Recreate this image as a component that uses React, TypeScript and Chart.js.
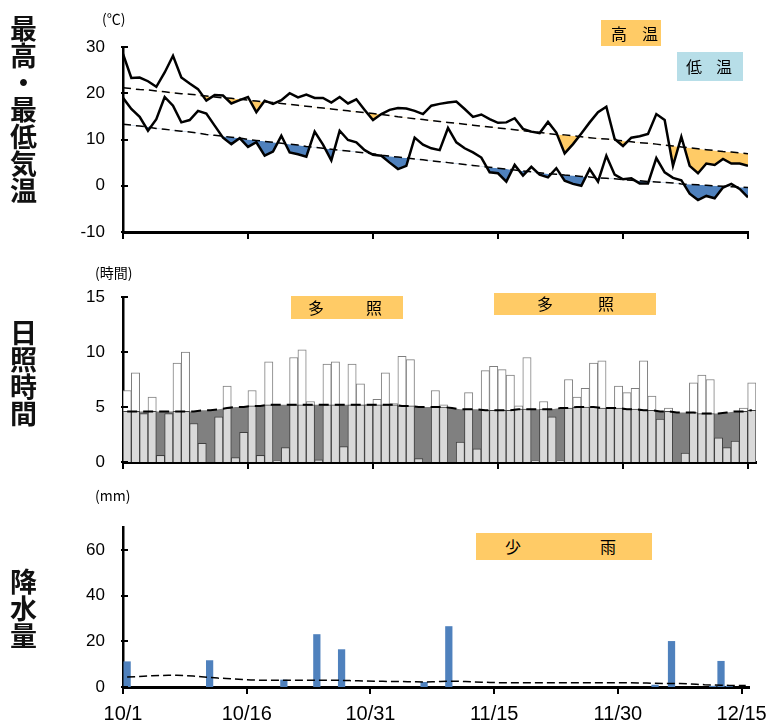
import React, { useEffect, useRef } from "react";
import { Chart, registerables } from "chart.js";
Chart.register(...registerables);

// ---------- data ----------
const dateLabels = ["10/1", "10/16", "10/31", "11/15", "11/30", "12/15"];
const dateTickPos = [0, 15, 30, 45, 60, 75];

const tempMax = [
  28.5, 23.3, 23.4, 22.6, 21.4, 24.5, 28.1, 23.4, 22.1, 20.9,
  18.4, 19.6, 19.5, 17.8, 18.5, 19.2, 15.9, 18.4, 17.7, 18.5,
  20.0, 19.1, 19.7, 19.0, 19.0, 18.0, 19.2, 17.8, 18.7, 16.4,
  14.2, 15.5, 16.4, 16.8, 16.7, 16.2, 15.5, 17.3, 17.7, 18.0,
  18.2, 16.6, 14.9, 15.4, 14.4, 13.6, 13.7, 14.6, 12.3, 11.7,
  11.4, 13.8, 11.5, 7.0, 9.0, 11.3, 13.7, 15.9, 17.1, 10.1,
  8.6, 10.4, 10.7, 11.2, 15.5, 14.2, 4.3, 10.6, 4.3, 2.7,
  4.8, 4.5, 5.8, 4.8, 4.8, 4.3,
];
const tempMaxNormal = [
  21.2, 21.0, 20.8, 20.7, 20.5, 20.3, 20.1, 19.9, 19.8, 19.6,
  19.4, 19.2, 19.0, 18.9, 18.7, 18.5, 18.3, 18.1, 18.0, 17.8,
  17.6, 17.4, 17.2, 17.0, 16.8, 16.6, 16.4, 16.2, 16.0, 15.8,
  15.6, 15.4, 15.2, 14.9, 14.7, 14.5, 14.3, 14.1, 13.9, 13.7,
  13.5, 13.3, 13.1, 12.9, 12.7, 12.5, 12.3, 12.1, 11.9, 11.7,
  11.5, 11.3, 11.1, 11.0, 10.8, 10.6, 10.4, 10.2, 10.1, 9.9,
  9.7, 9.5, 9.3, 9.2, 9.0, 8.8, 8.6, 8.4, 8.2, 8.0,
  7.8, 7.6, 7.4, 7.3, 7.1, 6.9,
];
const tempMin = [
  19.0, 16.6, 14.9, 11.9, 14.4, 19.2, 17.3, 13.7, 14.2, 16.2,
  15.6, 13.0, 10.4, 9.0, 10.3, 8.4, 9.4, 6.5, 7.4, 10.8,
  7.2, 6.8, 6.3, 11.7, 8.9, 5.5, 11.9, 9.9, 9.4, 7.7,
  6.7, 6.5, 5.0, 3.6, 4.3, 10.4, 8.9, 8.1, 7.7, 12.5,
  9.4, 8.1, 7.2, 6.1, 2.9, 2.7, 0.9, 4.5, 2.2, 4.1,
  2.4, 1.8, 3.8, 1.1, 0.4, 0.0, 3.6, 0.9, 6.5, 2.4,
  1.4, 1.6, 0.5, 0.5, 6.0, 2.9, 1.7, 1.2, -1.7, -3.1,
  -2.2, -2.7, -0.4, 0.4, -0.7, -2.5,
];
const tempMinNormal = [
  13.3, 13.1, 12.9, 12.7, 12.4, 12.2, 12.0, 11.8, 11.6, 11.4,
  11.1, 10.9, 10.7, 10.5, 10.3, 10.0, 9.8, 9.6, 9.4, 9.2,
  9.0, 8.8, 8.5, 8.3, 8.1, 7.9, 7.7, 7.5, 7.3, 7.1,
  6.9, 6.6, 6.4, 6.2, 6.0, 5.8, 5.6, 5.4, 5.2, 5.0,
  4.8, 4.6, 4.4, 4.2, 4.0, 3.8, 3.6, 3.4, 3.2, 3.0,
  2.8, 2.6, 2.5, 2.3, 2.2, 2.0, 1.9, 1.7, 1.6, 1.5,
  1.3, 1.2, 1.1, 0.9, 0.8, 0.7, 0.6, 0.4, 0.3, 0.2,
  0.1, 0.0, -0.1, -0.2, -0.3, -0.4,
];
const sunshine = [
  6.5, 8.1, 4.4, 5.9, 0.6, 4.4, 9.0, 10.0, 3.5, 1.7,
  0.0, 4.1, 6.9, 0.4, 2.7, 6.5, 0.6, 9.1, 0.1, 1.3,
  9.5, 10.2, 5.5, 0.2, 8.9, 9.1, 1.4, 8.9, 7.1, 5.2,
  5.7, 8.1, 5.3, 9.6, 9.3, 0.3, 0.0, 6.5, 5.2, 0.0,
  1.8, 6.3, 1.2, 8.3, 8.7, 8.4, 7.9, 5.1, 9.5, 0.1,
  5.5, 4.1, 0.1, 7.5, 5.9, 6.7, 9.0, 9.2, 4.9, 6.9,
  6.3, 6.7, 9.2, 6.0, 3.9, 4.9, 0.0, 0.8, 7.2, 7.9,
  7.5, 2.2, 1.3, 1.9, 4.9, 7.2,
];
const sunshineNormal = [
  4.6, 4.6, 4.6, 4.6, 4.6, 4.6, 4.6, 4.6, 4.6, 4.7,
  4.7, 4.8, 4.9, 5.0, 5.0, 5.1, 5.1, 5.2, 5.2, 5.2,
  5.2, 5.2, 5.2, 5.2, 5.2, 5.2, 5.2, 5.2, 5.2, 5.2,
  5.2, 5.2, 5.2, 5.1, 5.1, 5.0, 5.0, 5.0, 5.0, 4.9,
  4.8, 4.8, 4.8, 4.7, 4.7, 4.7, 4.7, 4.8, 4.8, 4.8,
  4.8, 4.8, 4.9, 4.9, 5.0, 5.0, 5.0, 4.9, 4.9, 4.9,
  4.8, 4.8, 4.7, 4.7, 4.6, 4.6, 4.5, 4.5, 4.5, 4.4,
  4.4, 4.4, 4.5, 4.6, 4.6, 4.7,
];
const rain = [
  11.2, 0, 0, 0, 0, 0, 0, 0, 0, 0,
  11.7, 0, 0, 0, 0, 0, 0, 0, 0, 3.2,
  0, 0, 0, 23.1, 0, 0, 16.5, 0, 0, 0,
  0, 0, 0, 0, 0, 0, 2.2, 0, 0, 26.6,
  0, 0, 0, 0, 0, 0, 0, 0, 0, 0,
  0, 0, 0, 0, 0, 0, 0, 0, 0, 0,
  0, 0, 0, 0, 1.0, 0, 20.1, 0, 0, 0,
  0, 0.5, 11.4, 0.5, 0, 0,
];
const rainNormal = [
  4.4, 4.5, 4.7, 4.9, 5.0, 5.1, 5.1, 5.0, 4.8, 4.5,
  4.2, 3.9, 3.7, 3.5, 3.3, 3.1, 3.0, 2.9, 2.9, 2.9,
  2.9, 2.9, 2.9, 2.9, 2.9, 2.9, 2.9, 2.8, 2.7, 2.6,
  2.5, 2.5, 2.4, 2.4, 2.3, 2.3, 2.2, 2.3, 2.4, 2.5,
  2.5, 2.4, 2.2, 2.1, 2.0, 1.9, 1.9, 1.9, 1.9, 1.9,
  1.9, 1.9, 1.9, 1.9, 1.9, 1.9, 1.9, 1.9, 1.9, 1.9,
  1.9, 1.9, 1.8, 1.7, 1.6, 1.5, 1.5, 1.5, 1.4, 1.2,
  1.0, 0.9, 0.8, 0.7, 0.7, 0.7,
];
const tempTicks = [-10, 0, 10, 20, 30];
const sunTicks = [0, 5, 10, 15];
const rainTicks = [0, 20, 40, 60];

// ---------- styles ----------
const ORANGE = "#FFCB66";
const BLUE = "#4F81BD";
const LIGHTBLUE = "#B7DEE8";
const NUMFONT = "'Liberation Sans', Arial, sans-serif";
const JPFONT = "'Noto Sans CJK JP', 'Noto Sans', sans-serif";
const W = 782;

const tickPlugin = {
  id: "innerTicks",
  afterDraw(chart: any) {
    const ctx = chart.ctx;
    const a = chart.chartArea;
    const xs = chart.scales.x;
    const ys = chart.scales.y;
    ctx.save();
    ctx.strokeStyle = "#000";
    ctx.lineWidth = 2;
    ctx.beginPath();
    ys.ticks.forEach((t: any) => {
      const y = Math.round(ys.getPixelForValue(t.value));
      ctx.moveTo(a.left - 2, y);
      ctx.lineTo(a.left + 5, y);
    });
    xs.ticks.forEach((t: any) => {
      const x = Math.round(xs.getPixelForValue(t.value));
      ctx.moveTo(x, a.bottom);
      ctx.lineTo(x, a.bottom + 7);
    });
    ctx.stroke();
    ctx.restore();
  },
};

function xAxis(max: number, showLabels: boolean, height: number) {
  return {
    type: "linear",
    min: 0,
    max,
    offset: false,
    afterBuildTicks: (s: any) => {
      s.ticks = dateTickPos.map((v) => ({ value: v }));
    },
    afterFit: (s: any) => {
      s.height = height;
    },
    ticks: {
      display: showLabels,
      autoSkip: false,
      maxRotation: 0,
      padding: 15,
      color: "#000",
      font: { family: NUMFONT, size: 20 },
      callback: (v: any) => {
        const k = dateTickPos.indexOf(Number(v));
        return k >= 0 ? dateLabels[k] : "";
      },
    },
    grid: { display: false, drawTicks: false, offset: false },
    border: { display: true, color: "#000", width: 3 },
  };
}

function yAxis(min: number, max: number, ticks: number[]) {
  return {
    type: "linear",
    min,
    max,
    afterBuildTicks: (s: any) => {
      s.ticks = ticks.map((v) => ({ value: v }));
    },
    afterFit: (s: any) => {
      s.width = 123;
    },
    ticks: {
      padding: 18,
      color: "#000",
      font: { family: NUMFONT, size: 17 },
    },
    grid: { display: false, drawTicks: false },
    border: { display: true, color: "#000", width: 2.5 },
  };
}

const baseOpts = {
  responsive: false,
  animation: false,
  devicePixelRatio: 1,
  plugins: { legend: { display: false }, tooltip: { enabled: false } },
};

function useChart(ref: React.RefObject<HTMLCanvasElement>, make: () => any) {
  useEffect(() => {
    if (!ref.current) return;
    const c = new Chart(ref.current, make());
    return () => c.destroy();
  }, []);
}

export default function App() {
  const r1 = useRef<HTMLCanvasElement>(null);
  const r2 = useRef<HTMLCanvasElement>(null);
  const r3 = useRef<HTMLCanvasElement>(null);

  useChart(r1, () => ({
    type: "line",
    data: {
      datasets: [
        {
          data: tempMax.map((v, i) => ({ x: i, y: v })),
          borderColor: "#000",
          borderWidth: 2.5,
          pointRadius: 0,
          tension: 0,
          fill: { target: 1, above: "rgba(0,0,0,0)", below: ORANGE },
          order: 2,
        },
        {
          data: tempMaxNormal.map((v, i) => ({ x: i, y: v })),
          borderColor: "#000",
          borderWidth: 1.5,
          borderDash: [8, 5],
          pointRadius: 0,
          fill: false,
          order: 1,
        },
        {
          data: tempMin.map((v, i) => ({ x: i, y: v })),
          borderColor: "#000",
          borderWidth: 2.5,
          pointRadius: 0,
          tension: 0,
          fill: { target: 3, above: "rgba(0,0,0,0)", below: BLUE },
          order: 2,
        },
        {
          data: tempMinNormal.map((v, i) => ({ x: i, y: v })),
          borderColor: "#000",
          borderWidth: 1.5,
          borderDash: [8, 5],
          pointRadius: 0,
          fill: false,
          order: 1,
        },
      ],
    },
    options: {
      ...baseOpts,
      layout: { padding: { left: 0, right: W - 748, top: 47, bottom: 0 } },
      scales: { x: xAxis(75, false, 30), y: yAxis(-10, 30, tempTicks) },
    },
    plugins: [tickPlugin],
  }));

  useChart(r2, () => ({
    type: "bar",
    data: {
      datasets: [
        {
          type: "line",
          data: sunshineNormal.map((v, i) => ({ x: i + 0.5, y: v })),
          borderColor: "#000",
          borderWidth: 2,
          borderDash: [10, 6],
          pointRadius: 0,
          fill: false,
          order: 0,
        },
        {
          type: "bar",
          data: sunshine.map((v, i) => ({ x: i + 0.5, y: Math.min(v, sunshineNormal[i]) })),
          backgroundColor: "#D9D9D9",
          borderColor: "#404040",
          borderWidth: 1,
          grouped: false,
          barPercentage: 1,
          categoryPercentage: 1,
          order: 1,
        },
        {
          type: "bar",
          data: sunshine.map((v, i) => ({ x: i + 0.5, y: v })),
          backgroundColor: "#FFFFFF",
          borderColor: "#7F7F7F",
          borderWidth: 1,
          grouped: false,
          barPercentage: 1,
          categoryPercentage: 1,
          order: 2,
        },
        {
          type: "line",
          data: sunshineNormal.map((v, i) => ({ x: i + 0.5, y: v })),
          borderWidth: 0,
          borderColor: "rgba(0,0,0,0)",
          backgroundColor: "#808080",
          pointRadius: 0,
          fill: "origin",
          order: 3,
        },
      ],
    },
    options: {
      ...baseOpts,
      layout: { padding: { left: 0, right: 26, top: 42, bottom: 0 } },
      scales: { x: xAxis(76, false, 33), y: yAxis(0, 15, sunTicks) },
    },
    plugins: [tickPlugin],
  }));

  useChart(r3, () => ({
    type: "bar",
    data: {
      datasets: [
        {
          type: "line",
          data: rainNormal.map((v, i) => ({ x: i + 0.5, y: v })),
          borderColor: "#000",
          borderWidth: 1.5,
          borderDash: [8, 4],
          pointRadius: 0,
          fill: false,
          order: 0,
        },
        {
          type: "bar",
          data: rain.map((v, i) => ({ x: i + 0.5, y: v })),
          backgroundColor: BLUE,
          borderWidth: 0,
          barPercentage: 0.88,
          categoryPercentage: 1,
          order: 1,
        },
      ],
    },
    options: {
      ...baseOpts,
      layout: { padding: { left: 0, right: 26, top: 52, bottom: 0 } },
      scales: { x: xAxis(76, true, 38), y: yAxis(0, 70, rainTicks) },
    },
    plugins: [tickPlugin],
  }));

  const vTitle = (top: number): React.CSSProperties => ({
    position: "absolute",
    left: 8,
    top,
    width: 30,
    writingMode: "vertical-rl",
    fontFamily: JPFONT,
    fontSize: 27,
    lineHeight: "30px",
    fontWeight: 700,
    color: "#111",
  });
  const unit = (left: number, top: number): React.CSSProperties => ({
    position: "absolute",
    left,
    top,
    fontFamily: JPFONT,
    fontSize: 14,
    lineHeight: "16px",
    color: "#000",
    whiteSpace: "nowrap",
  });
  const box = (left: number, top: number, w: number, h: number, bg: string): React.CSSProperties => ({
    position: "absolute",
    left,
    top,
    width: w,
    height: h,
    background: bg,
  });
  const boxText = (left: number, top: number): React.CSSProperties => ({
    position: "absolute",
    left,
    top,
    fontFamily: JPFONT,
    fontSize: 16,
    lineHeight: "18px",
    color: "#000",
    whiteSpace: "nowrap",
  });

  return (
    <div style={{ position: "absolute", left: 0, top: 0, width: W, height: 725, background: "#fff", overflow: "hidden" }}>
      <canvas ref={r1} width={W} height={262} style={{ position: "absolute", left: 0, top: 0 }} />
      <canvas ref={r2} width={W} height={240} style={{ position: "absolute", left: 0, top: 255 }} />
      <canvas ref={r3} width={W} height={250} style={{ position: "absolute", left: 0, top: 475 }} />

      <div style={vTitle(15)}>最高・最低気温</div>
      <div style={vTitle(319)}>日照時間</div>
      <div style={vTitle(568)}>降水量</div>

      <div style={unit(102, 10)}>(℃)</div>
      <div style={unit(95, 264)}>(時間)</div>
      <div style={unit(95, 487)}>(mm)</div>

      <div style={box(601, 20, 60, 26, ORANGE)} />
      <div style={boxText(611, 24)}>高</div>
      <div style={boxText(642, 24)}>温</div>

      <div style={box(677, 52, 66, 29, LIGHTBLUE)} />
      <div style={boxText(686, 57)}>低</div>
      <div style={boxText(716, 57)}>温</div>

      <div style={box(291, 296, 112, 23, ORANGE)} />
      <div style={boxText(308, 298)}>多</div>
      <div style={boxText(366, 298)}>照</div>

      <div style={box(494, 293, 162, 22, ORANGE)} />
      <div style={boxText(537, 294)}>多</div>
      <div style={boxText(598, 294)}>照</div>

      <div style={box(476, 533, 176, 27, ORANGE)} />
      <div style={boxText(505, 537)}>少</div>
      <div style={boxText(600, 537)}>雨</div>
    </div>
  );
}
